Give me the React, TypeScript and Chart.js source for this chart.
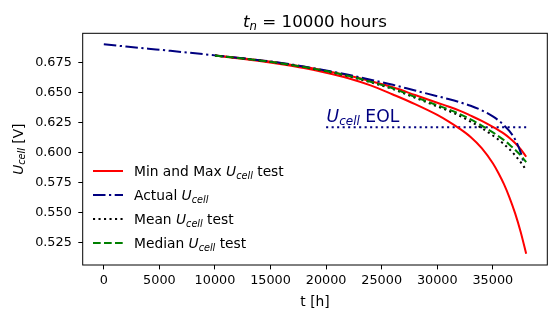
import React, { useEffect, useRef } from "react";
import { Chart, registerables } from "chart.js";
Chart.register(...registerables);

// ---- data ----
const actualHours = [0, 2000, 4000, 6000, 8000, 10000, 12000, 14000, 16000, 18000, 20000, 22000, 24000, 26000, 28000, 30000, 31000, 32000, 33000, 34000, 35000, 35500, 36000, 36500, 37000, 37500, 37750];
const actualU = [0.69, 0.6882, 0.6864, 0.6846, 0.6827, 0.6808, 0.6789, 0.6768, 0.6745, 0.6715, 0.6682, 0.6646, 0.6605, 0.6563, 0.6515, 0.6468, 0.6444, 0.6418, 0.6388, 0.635, 0.63, 0.6267, 0.6226, 0.6176, 0.6108, 0.6, 0.592];

const testHours = [10000, 12000, 14000, 16000, 18000, 20000, 22000, 24000, 26000, 28000, 30000, 31000, 32000, 33000, 34000, 35000, 35500, 36000, 36500, 37000, 37500, 38000];
const maxU = [0.6808, 0.6789, 0.6768, 0.6743, 0.6713, 0.6679, 0.664, 0.6593, 0.6542, 0.6478, 0.6413, 0.6382, 0.6348, 0.6306, 0.6262, 0.6212, 0.6185, 0.6156, 0.612, 0.6078, 0.6027, 0.5963];
const minU = [0.6806, 0.6785, 0.6762, 0.6734, 0.6702, 0.6664, 0.6618, 0.6558, 0.6482, 0.6402, 0.6312, 0.6258, 0.6198, 0.6128, 0.6035, 0.5909, 0.5828, 0.5735, 0.5623, 0.5493, 0.5338, 0.5154];
const meanU = [0.6806, 0.6787, 0.6766, 0.674, 0.671, 0.6675, 0.6634, 0.6584, 0.6527, 0.6455, 0.6382, 0.6346, 0.6305, 0.6256, 0.6202, 0.614, 0.6106, 0.6068, 0.6025, 0.5975, 0.5918, 0.5853];
const medianU = [0.6806, 0.6787, 0.6766, 0.6741, 0.6711, 0.6677, 0.6637, 0.6588, 0.6533, 0.6462, 0.6392, 0.6358, 0.632, 0.6274, 0.6223, 0.6166, 0.6135, 0.6102, 0.6064, 0.6022, 0.5975, 0.5918];

const eolHours = [20000, 38000];
const eolU = [0.621, 0.621];

const xTicks = [0, 5000, 10000, 15000, 20000, 25000, 30000, 35000];
const yTicks = [0.525, 0.55, 0.575, 0.6, 0.625, 0.65, 0.675];

const X_MIN = -1900;
const X_MAX = 39900;
const Y_MIN = 0.5061;
const Y_MAX = 0.6992;

const titleText = { pre: "t", sub: "n", post: " = 10000 hours" };
const xLabel = "t [h]";
const yLabelRest = " [V]";
const eolLabel = " EOL";
const legendLabels = [
  { pre: "Min and Max ", post: " test" },
  { pre: "Actual ", post: "" },
  { pre: "Mean ", post: " test" },
  { pre: "Median ", post: " test" },
];

// ---- styles ----
const FONT = '"DejaVu Sans", sans-serif';
const RED = "#ff0000";
const NAVY = "#000080";
const GREEN = "#008000";
const BLACK = "#000000";
const LW = 2;
const DASHDOT = [12.5, 3.5, 2.2, 3.5];
const DASHED = [7.7, 3.3];
const DOTTED = [2.1, 3.4];

type Seg = { t: string; it?: boolean; sub?: boolean };

function segFont(s: Seg, size: number) {
  const sz = s.sub ? size * 0.7 : size;
  return `${s.it ? "italic " : ""}${sz}px ${FONT}`;
}
function measureRich(ctx: CanvasRenderingContext2D, segs: Seg[], size: number) {
  let w = 0;
  for (const s of segs) {
    ctx.font = segFont(s, size);
    w += ctx.measureText(s.t).width;
  }
  return w;
}
function drawRich(ctx: CanvasRenderingContext2D, segs: Seg[], x: number, y: number, size: number, color: string, align: "left" | "center") {
  const w = measureRich(ctx, segs, size);
  let cx = align === "center" ? x - w / 2 : x;
  ctx.fillStyle = color;
  ctx.textAlign = "left";
  ctx.textBaseline = "alphabetic";
  for (const s of segs) {
    ctx.font = segFont(s, size);
    ctx.fillText(s.t, cx, y + (s.sub ? size * 0.2 : 0));
    cx += ctx.measureText(s.t).width;
  }
}
const ucell = (): Seg[] => [{ t: "U", it: true }, { t: "cell", it: true, sub: true }];

const legendStyles = [
  { color: RED, dash: [] as number[] },
  { color: NAVY, dash: DASHDOT },
  { color: BLACK, dash: DOTTED },
  { color: GREEN, dash: DASHED },
];

const annotPlugin = {
  id: "annot",
  afterDraw(chart: any) {
    const ctx: CanvasRenderingContext2D = chart.ctx;
    const ca = chart.chartArea;
    const xs = chart.scales.x;
    const ys = chart.scales.y;
    ctx.save();
    // frame
    ctx.strokeStyle = "#000";
    ctx.lineWidth = 1;
    ctx.setLineDash([]);
    ctx.strokeRect(ca.left, ca.top, ca.right - ca.left, ca.bottom - ca.top);

    // title
    drawRich(ctx, [{ t: titleText.pre, it: true }, { t: titleText.sub, it: true, sub: true }, { t: titleText.post }], (ca.left + ca.right) / 2, 26.5, 16.7, "#000", "center");
    // x label
    drawRich(ctx, [{ t: xLabel }], (ca.left + ca.right) / 2, 306, 13.8, "#000", "center");
    // y label
    ctx.save();
    ctx.translate(22.5, (ca.top + ca.bottom) / 2);
    ctx.rotate(-Math.PI / 2);
    drawRich(ctx, [...ucell(), { t: yLabelRest }], 0, 0, 13.8, "#000", "center");
    ctx.restore();

    // EOL label
    drawRich(ctx, [...ucell(), { t: eolLabel }], xs.getPixelForValue(eolHours[0]) + 0.5, ys.getPixelForValue(eolU[0]) - 5.5, 17.2, NAVY, "left");

    // legend
    const rowY = [171, 195, 219, 243];
    legendLabels.forEach((lab, i) => {
      const st = legendStyles[i];
      const y = rowY[i];
      ctx.beginPath();
      ctx.strokeStyle = st.color;
      ctx.lineWidth = LW;
      ctx.setLineDash(st.dash);
      ctx.moveTo(93, y);
      ctx.lineTo(123, y);
      ctx.stroke();
      ctx.setLineDash([]);
      const segs: Seg[] = [{ t: lab.pre }, ...ucell()];
      if (lab.post) segs.push({ t: lab.post });
      drawRich(ctx, segs, 134, y + 5, 13.8, "#000", "left");
    });
    ctx.restore();
  },
};

const pts = (xs: number[], ys: number[]) => xs.map((x, i) => ({ x, y: ys[i] }));

export default function App() {
  const ref = useRef<HTMLCanvasElement | null>(null);
  useEffect(() => {
    if (!ref.current) return;
    const common = { pointRadius: 0, borderWidth: LW, fill: false, cubicInterpolationMode: "monotone" as const, borderCapStyle: "butt" as const };
    const chart = new Chart(ref.current, {
      type: "line",
      data: {
        datasets: [
          { ...common, label: "Median", data: pts(testHours, medianU), borderColor: GREEN, borderDash: DASHED, order: 1 },
          { ...common, label: "Mean", data: pts(testHours, meanU), borderColor: BLACK, borderDash: DOTTED, order: 2 },
          { ...common, label: "Actual", data: pts(actualHours, actualU), borderColor: NAVY, borderDash: DASHDOT, order: 3 },
          { ...common, label: "Max", data: pts(testHours, maxU), borderColor: RED, order: 4 },
          { ...common, label: "Min", data: pts(testHours, minU), borderColor: RED, order: 5 },
          { ...common, label: "EOL", data: pts(eolHours, eolU), borderColor: NAVY, borderDash: DOTTED, order: 6, cubicInterpolationMode: "default" as const },
        ],
      },
      options: {
        animation: false,
        responsive: false,
        devicePixelRatio: 1,
        layout: { padding: { left: 0, right: 8.7, top: 33.3, bottom: 0 } },
        plugins: { legend: { display: false }, title: { display: false }, tooltip: { enabled: false } },
        scales: {
          x: {
            type: "linear",
            min: X_MIN,
            max: X_MAX,
            afterFit: (s: any) => { s.height = 53; },
            afterBuildTicks: (s: any) => { s.ticks = xTicks.map((v) => ({ value: v })); },
            grid: { display: true, drawOnChartArea: false, drawTicks: true, tickLength: 4.4, color: "#000", tickWidth: 1 },
            border: { display: false },
            ticks: { color: "#000", padding: 4, font: { family: FONT, size: 12.8 }, maxRotation: 0, autoSkip: false, callback: (v: any) => String(v) },
          },
          y: {
            type: "linear",
            min: Y_MIN,
            max: Y_MAX,
            afterFit: (s: any) => { s.width = 82.7; },
            afterBuildTicks: (s: any) => { s.ticks = yTicks.map((v) => ({ value: v })); },
            grid: { display: true, drawOnChartArea: false, drawTicks: true, tickLength: 4.4, color: "#000", tickWidth: 1 },
            border: { display: false },
            ticks: { color: "#000", padding: 6.5, font: { family: FONT, size: 12.8 }, autoSkip: false, callback: (v: any) => Number(v).toFixed(3) },
          },
        },
      },
      plugins: [annotPlugin],
    } as any);
    return () => chart.destroy();
  }, []);
  return (
    <div style={{ position: "absolute", left: 0, top: 0, width: 556, height: 318, background: "#fff" }}>
      <canvas ref={ref} width={556} height={318} style={{ display: "block", width: 556, height: 318 }} />
    </div>
  );
}
